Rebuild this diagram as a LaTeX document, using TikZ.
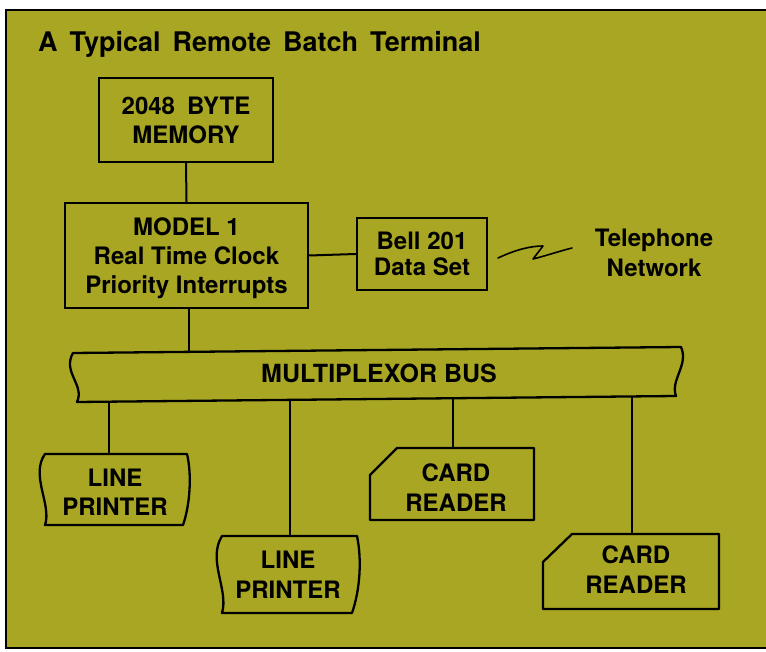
\documentclass[tikz,border=0pt]{standalone}
\usepackage{fontspec}
\setmainfont{TeX Gyre Heros}
\definecolor{bgolive}{RGB}{168,166,34}
\begin{document}
\begin{tikzpicture}[x=1pt,y=-1pt,
  txt/.style={font=\bfseries\fontsize{24}{29.5}\selectfont, align=center, text height=17.2pt, text depth=0pt, inner sep=0pt},
  lines/.style={text height=17.2pt+#1},
  box/.style={txt, draw, line width=2.3pt},
  shp/.style={draw, line width=2.3pt, line join=round},
  conn/.style={draw, line width=2pt}]
\useasboundingbox (0,0) rectangle (766,652);
\fill[white] (0,0) rectangle (766,652);
\fill[bgolive] (6,10) rectangle (770,648);
\draw[line width=1.5pt] (770,10) -- (6,10) -- (6,648) -- (770,648);

\node[txt, font=\bfseries\fontsize{27}{30}\selectfont, anchor=base west] (title) at (38,52) {\spaceskip=12pt\relax A Typical Remote Batch Terminal};

\node[box, lines=29pt, minimum width=174pt, minimum height=84pt, font=\bfseries\fontsize{24}{29}\selectfont] (mem) at (186,120) {2048\hspace{0.5em}BYTE\\MEMORY};
\node[box, lines=58pt, minimum width=243pt, minimum height=105pt, font=\bfseries\fontsize{24}{29}\selectfont] (model) at (186.5,255.5) {MODEL 1\\Real Time Clock\\Priority Interrupts};
\node[box, lines=26pt, minimum width=130pt, minimum height=72pt, font=\bfseries\fontsize{24}{26}\selectfont] (bell) at (422,254) {Bell 201\\Data Set};
\node[txt, lines=30pt, font=\bfseries\fontsize{24}{30}\selectfont] (tel) at (654,253) {Telephone\\Network};

\draw[conn] (mem.south) -- (model.north);
\draw[conn] (model.east) -- (bell.west);
\coordinate (sq1) at (498,258);
\coordinate (sq2) at (572,248);
\draw[line width=1.6pt, line cap=round, line join=round] (sq1) .. controls (515,250) and (530,246) .. (543,246) -- (533,259) .. controls (545,256) and (560,251) .. (sq2);

% bus
\draw[shp] (73,353) -- (681,347) .. controls (689,365) and (670,380) .. (676,396) -- (77,402) .. controls (85,385) and (62,372) .. cycle;
\node[txt, font=\bfseries\fontsize{25}{30}\selectfont] (bus) at (379,374) {MULTIPLEXOR BUS};
\coordinate (busin) at (189,352);
\coordinate (bus1) at (109,401.7);
\coordinate (bus2) at (290,399.9);
\coordinate (bus3) at (453,398.2);
\coordinate (bus4) at (632,396.4);
\draw[conn] (model.south -| busin) -- (busin);

% line printer 1
\draw[shp] (45,454) -- (187,454) .. controls (192,475) and (190,505) .. (183,525) -- (45,525) .. controls (52,505) and (30,475) .. cycle;
\node[txt, lines=29pt, font=\bfseries\fontsize{24}{29}\selectfont] (lp1) at (115,492) {LINE\\PRINTER};
\coordinate (lp1top) at (109,454);
\draw[conn] (bus1) -- (lp1top);

% line printer 2
\draw[shp] (222,536) -- (357,536) .. controls (362,560) and (360,590) .. (352,613) -- (222,613) .. controls (229,590) and (207,560) .. cycle;
\node[txt, lines=30pt, font=\bfseries\fontsize{24}{30}\selectfont] (lp2) at (288,575) {LINE\\PRINTER};
\coordinate (lp2top) at (290,536);
\draw[conn] (bus2) -- (lp2top);

% card reader 1
\draw[shp] (397,448) -- (534,448) -- (534,520) -- (370,520) -- (370,475) -- cycle;
\node[txt, lines=30pt, font=\bfseries\fontsize{24}{30}\selectfont] (cr1) at (456,488) {CARD\\READER};
\coordinate (cr1top) at (453,448);
\draw[conn] (bus3) -- (cr1top);

% card reader 2
\draw[shp] (572,534) -- (719,534) -- (719,609) -- (543,609) -- (543,562) -- cycle;
\node[txt, lines=30pt, font=\bfseries\fontsize{24}{30}\selectfont] (cr2) at (636,570) {CARD\\READER};
\coordinate (cr2top) at (632,534);
\draw[conn] (bus4) -- (cr2top);
\end{tikzpicture}
\end{document}
